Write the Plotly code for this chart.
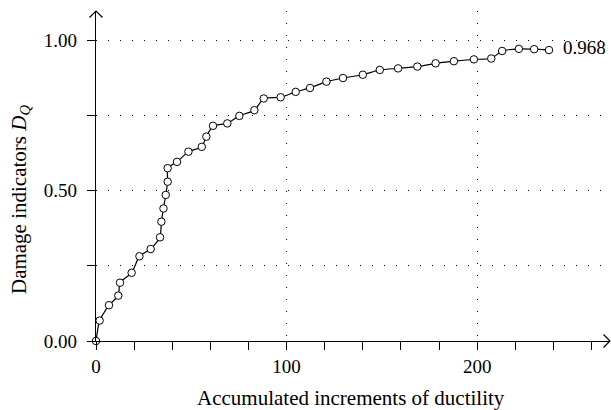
import plotly.graph_objects as go

# Data
ductility = [0, 1.9, 6.8, 11.7, 12.6, 18.7, 22.8, 28.7, 33.6, 34.3, 35.4, 36.6, 37.6, 37.6,
             42.5, 48.5, 55.5, 57.9, 61.4, 68.9, 75.2, 83.1, 88.0, 96.9, 104.8, 112.3,
             120.9, 129.6, 140.0, 148.9, 158.5, 168.6, 178.2, 187.8, 198.3, 207.4, 213.1,
             221.9, 229.9, 237.7]
damage = [0.0, 0.068, 0.119, 0.151, 0.194, 0.227, 0.282, 0.306, 0.345, 0.397, 0.441, 0.486,
          0.530, 0.575, 0.596, 0.630, 0.646, 0.680, 0.716, 0.724, 0.749, 0.768, 0.807, 0.811,
          0.829, 0.842, 0.863, 0.875, 0.886, 0.902, 0.907, 0.913, 0.924, 0.931, 0.937, 0.940,
          0.965, 0.972, 0.971, 0.968]
final_label = "0.968"
x_title = "Accumulated increments of ductility"
y_title = "Damage indicators <i>D</i><sub><i>Q</i></sub>"

FONT = "Liberation Serif"
FS = 19
TFS = 21
dots = "1px,11px"

fig = go.Figure()
fig.add_trace(go.Scatter(
    x=ductility, y=damage, mode="lines+markers",
    line=dict(color="black", width=1.2, shape="spline", smoothing=0.5),
    marker=dict(symbol="circle", size=7.5, color="white", line=dict(color="black", width=1)),
    cliponaxis=False, showlegend=False,
))

fig.add_annotation(x=ductility[-1], y=damage[-1], text=final_label, showarrow=False,
                   xanchor="left", yanchor="middle", xshift=12, yshift=3,
                   font=dict(family=FONT, size=FS, color="black"))

fig.add_annotation(xref="paper", yref="paper", x=0.497, y=-0.173, text=x_title,
                   showarrow=False, xanchor="center", yanchor="middle",
                   font=dict(family=FONT, size=TFS, color="black"))
fig.add_annotation(xref="paper", yref="paper", x=-0.148, y=0.43, text=y_title,
                   showarrow=False, xanchor="center", yanchor="middle", textangle=-90,
                   font=dict(family=FONT, size=TFS, color="black"))

# open arrow heads at axis ends
fig.add_shape(type="path", xref="paper", yref="paper", xsizemode="pixel", ysizemode="pixel",
              xanchor=0, yanchor=1, path="M -6.5,-6.5 L 0,0 L 6.5,-6.5",
              line=dict(color="black", width=1.2))
fig.add_shape(type="path", xref="paper", yref="paper", xsizemode="pixel", ysizemode="pixel",
              xanchor=1, yanchor=0, path="M -6.5,6.5 L 0,0 L -6.5,-6.5",
              line=dict(color="black", width=1.2))

fig.update_xaxes(range=[0, 269.7], showline=True, linecolor="black", linewidth=1.2,
                 tickmode="linear", tick0=0, dtick=100, ticks="outside", ticklen=8,
                 tickcolor="black", tickwidth=1.2,
                 showgrid=True, gridcolor="black", gridwidth=1, griddash=dots,
                 zeroline=False,
                 minor=dict(dtick=20, ticks="outside", ticklen=8, tickcolor="black",
                            tickwidth=1.2, showgrid=False),
                 tickfont=dict(family=FONT, size=FS, color="black"))
fig.update_yaxes(range=[0, 1.098], showline=True, linecolor="black", linewidth=1.2,
                 tickmode="linear", tick0=0, dtick=0.5, tickformat=".2f",
                 ticks="outside", ticklen=8, tickcolor="black", tickwidth=1.2,
                 showgrid=True, gridcolor="black", gridwidth=1, griddash=dots,
                 zeroline=False, ticklabelstandoff=6,
                 minor=dict(dtick=0.25, ticks="outside", ticklen=8, tickcolor="black",
                            tickwidth=1.2, showgrid=True, gridcolor="black",
                            gridwidth=1, griddash=dots),
                 tickfont=dict(family=FONT, size=FS, color="black"))

fig.update_layout(width=611, height=410, margin=dict(l=96, r=1, t=11, b=69),
                  paper_bgcolor="white", plot_bgcolor="white",
                  font=dict(family=FONT, size=FS, color="black"))
fig.write_html("out.html", config={"displayModeBar": False},
               post_script="document.body.style.margin='0';document.body.style.overflow='hidden';")
